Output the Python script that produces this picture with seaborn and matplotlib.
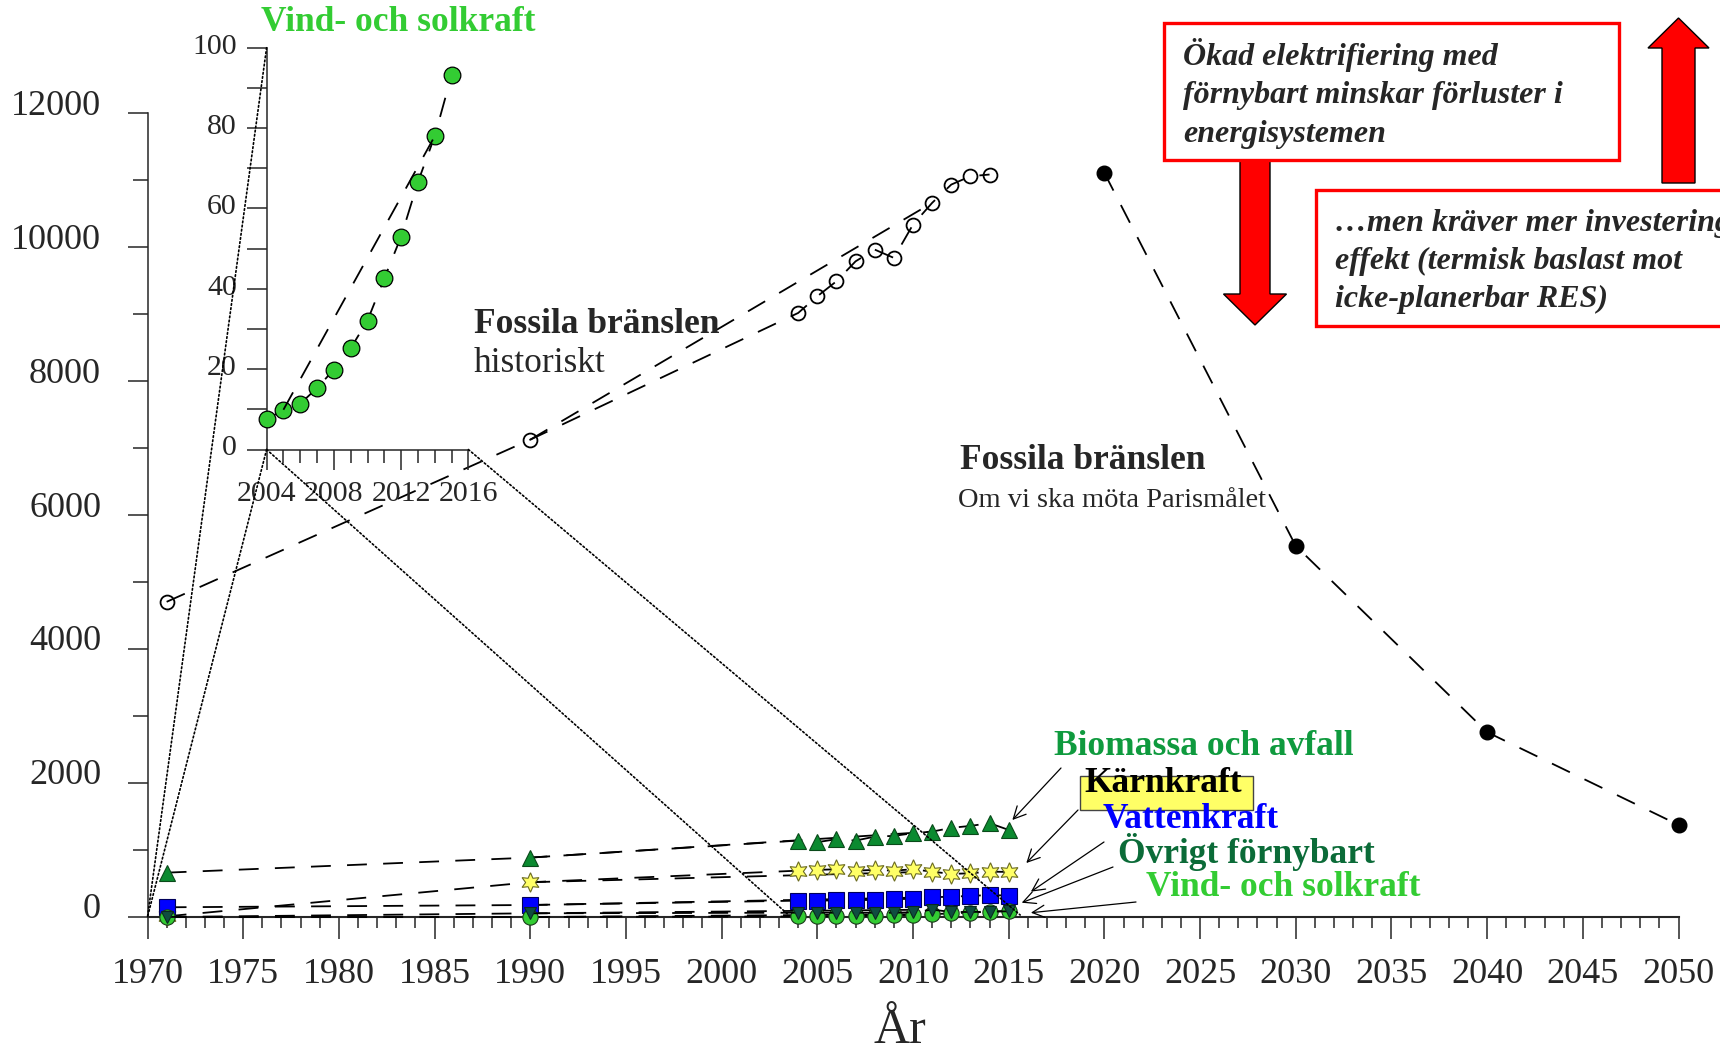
import matplotlib
matplotlib.use("Agg")
import matplotlib.pyplot as plt
import matplotlib.patches as mpatches
from matplotlib.patches import ConnectionPatch
from matplotlib.ticker import MultipleLocator
from matplotlib.transforms import ScaledTranslation
import pandas as pd
import seaborn as sns

# --- data ---
years_hist = [1971, 1990, 2004, 2005, 2006, 2007, 2008, 2009, 2010, 2011, 2012, 2013, 2014, 2015]
fossil_years = [1971, 1990, 2004, 2005, 2006, 2007, 2008, 2009, 2010, 2011, 2012, 2013, 2014]
fossil = [4706, 7127, 9019, 9268, 9492, 9790, 9965, 9841, 10339, 10663, 10936, 11060, 11086]
paris_years = [2020, 2030, 2040, 2050]
paris = [11110, 5540, 2760, 1375]
biomass = [662, 887, 1141, 1117, 1162, 1141, 1200, 1211, 1251, 1275, 1331, 1360, 1401, 1300]
nuclear = [10, 519, 692, 703, 713, 692, 703, 692, 713, 677, 643, 653, 677, 673]
hydro = [145, 179, 244, 244, 249, 254, 254, 264, 274, 294, 304, 314, 329, 319]
other_ren = [0, 55, 64, 64, 64, 64, 64, 64, 70, 110, 75, 75, 80, 85]
wind_solar = [0, 0, 7.5, 9.9, 11.4, 15.3, 19.9, 25.2, 32.1, 42.6, 53.0, 66.6, 78.0, 93.2]
bridge = (1990, 2011)        # extra dashed segment in the main chart
inset_bridge = (2005, 2014)  # extra dashed segment in the zoom box

hist = pd.DataFrame({'year': years_hist, 'bio': biomass, 'nuc': nuclear,
                     'hyd': hydro, 'oth': other_ren, 'vs': wind_solar}).set_index('year')
fos = pd.Series(fossil, index=fossil_years)
vs_recent = hist.loc[2004:, 'vs']

W, H = 1720, 1052
def fxy(px, py):
    return px / W, 1 - py / H

sns.set_style("ticks")
plt.rcParams['font.family'] = ['Liberation Serif', 'DejaVu Serif']

fig = plt.figure(figsize=(17.2, 10.52), dpi=100)
ax = fig.add_axes([0.08576, 0.12833, 0.89012, 0.76397])

DASH = (0, (11, 9))

def series(a, x, y, marker=None, ms=10, fc='w', ec='k', mew=1.0, z=3):
    sns.lineplot(x=list(x), y=list(y), ax=a, color='black', lw=1.3, ls=DASH,
                 marker=marker, markersize=ms, markerfacecolor=fc,
                 markeredgecolor=ec, markeredgewidth=mew, clip_on=False,
                 zorder=z, sort=False, estimator=None)

# fossil history + Paris path
series(ax, fos.index, fos.values, 'o', 10, 'none', 'black', 1.3)
series(ax, bridge, fos.loc[list(bridge)].values)
series(ax, paris_years, paris, 'o', 10.5, 'black', 'black', 1)

# renewables and nuclear
styles = [('bio', '^', 12, '#0b8a30', '#0a4a1a', 0.8),
          ('nuc', (6, 1, 0), 14, '#ffff66', '#6b6b20', 0.8),
          ('hyd', 's', 12, '#0000ff', '#00005a', 0.8),
          ('vs', 'o', 11, '#33cc33', '#1a3a1a', 0.8),
          ('oth', 'v', 8, '#0f4d40', '#0a2a20', 0.8)]
for col, mk, ms, fc, ec, mew in styles:
    series(ax, hist.index, hist[col].values, mk, ms, fc, ec, mew, z=4)
    series(ax, bridge, hist.loc[list(bridge), col].values)

ax.set_xlim(1970, 2050)
ax.set_ylim(0, 12000)
ax.set_xticks(range(1970, 2051, 5))
ax.xaxis.set_minor_locator(MultipleLocator(1))
ax.set_yticks(range(0, 12001, 2000))
ax.yaxis.set_minor_locator(MultipleLocator(1000))
ax.tick_params(axis='x', which='major', length=15.6, width=1.1, pad=14, labelsize=26)
ax.tick_params(axis='x', which='minor', length=8, width=1.1)
ax.tick_params(axis='y', which='major', length=14.4, width=1.1, pad=19, labelsize=26)
ax.tick_params(axis='y', which='minor', length=10.8, width=1.1)
for lab in ax.get_yticklabels():
    lab.set_transform(lab.get_transform() + ScaledTranslation(0, 8 / 72, fig.dpi_scale_trans))
sns.despine(ax=ax)
ax.spines['left'].set_linewidth(1.1)
ax.spines['bottom'].set_linewidth(1.5)
ax.set_xlabel('År', fontsize=36)
ax.xaxis.set_label_coords(0.4915, -0.113)

# zoom box for wind and solar
axi = fig.add_axes([0.15500, 0.5727, 0.11733, 0.38194])
axi.patch.set_alpha(0)
series(axi, vs_recent.index, vs_recent.values, 'o', 12, '#33cc33', 'black', 0.9)
series(axi, inset_bridge, vs_recent.loc[list(inset_bridge)].values)
axi.set_xlim(2004, 2016)
axi.set_ylim(0, 100)
axi.set_xticks([2004, 2008, 2012, 2016])
axi.xaxis.set_minor_locator(MultipleLocator(1))
axi.set_yticks(range(0, 101, 20))
axi.yaxis.set_minor_locator(MultipleLocator(10))
axi.tick_params(axis='x', which='major', length=14.4, width=1.1, pad=8, labelsize=21.5)
axi.tick_params(axis='x', which='minor', length=9.4, width=1.1)
axi.tick_params(axis='y', which='major', length=14.4, width=1.1, pad=7, labelsize=21.5)
axi.tick_params(axis='y', which='minor', length=14.4, width=1.1)
for lab in axi.get_yticklabels():
    lab.set_transform(lab.get_transform() + ScaledTranslation(0, 3 / 72, fig.dpi_scale_trans))
sns.despine(ax=axi)
for s in ['left', 'bottom']:
    axi.spines[s].set_linewidth(1.1)

# dotted guide lines between zoom box and main chart
links = [((2004, 100), (1970, 0)), ((2004, 0), (1970, 0)),
         ((2004, 0), (2003.5, 30)), ((2016, 0), (2015.6, 30))]
for a_pt, b_pt in links:
    con = ConnectionPatch(xyA=a_pt, coordsA=axi.transData, xyB=b_pt, coordsB=ax.transData,
                          color='black', lw=1.2, ls=(0, (1, 1.5)), zorder=1)
    fig.add_artist(con)

# texts
LBL = 25.5
fig.text(*fxy(261, 31), 'Vind- och solkraft', color='#33cc33', fontsize=LBL,
         fontweight='bold', va='baseline')
fig.text(*fxy(474, 333), 'Fossila bränslen', fontsize=LBL, fontweight='bold', va='baseline')
fig.text(*fxy(474, 372), 'historiskt', fontsize=LBL, va='baseline')
fig.text(*fxy(960, 469), 'Fossila bränslen', fontsize=LBL, fontweight='bold', va='baseline')
fig.text(*fxy(958, 507), 'Om vi ska möta Parismålet', fontsize=20.5, va='baseline')

# series labels with arrows
fig.add_artist(mpatches.Rectangle(fxy(1080, 810), 173 / W, 34 / H, transform=fig.transFigure,
                                  facecolor='#ffff66', edgecolor='#444444', lw=1, zorder=5))
labels = [('Biomassa och avfall', '#0f9a3e', (1054, 755), (2015.19, 1448), (1061, 768)),
          ('Kärnkraft', 'black', (1084, 792), (2015.92, 806), (1078, 810)),
          ('Vattenkraft', '#0000ff', (1103, 828), (2016.16, 378), (1104, 842)),
          ('Övrigt förnybart', '#0b6b38', (1118, 863), (2015.68, 213), (1113, 867)),
          ('Vind- och solkraft', '#33cc33', (1146, 896), (2016.16, 64), (1136, 902))]
for txt, col, pos, tip, start in labels:
    fig.text(*fxy(*pos), txt, color=col, fontsize=LBL, fontweight='bold', va='baseline', zorder=6)
    ax.annotate('', xy=tip, xycoords='data', xytext=fxy(*start), textcoords='figure fraction',
                arrowprops=dict(arrowstyle='->', color='black', lw=0.9, shrinkA=0, shrinkB=0,
                                mutation_scale=22), annotation_clip=False)

# red boxes and arrows
fig.add_artist(mpatches.Rectangle(fxy(1164, 160), 455 / W, 137 / H, transform=fig.transFigure,
                                  facecolor='white', edgecolor='#ff0000', lw=2.4, zorder=5))
fig.add_artist(mpatches.Rectangle(fxy(1316, 326), 430 / W, 136 / H, transform=fig.transFigure,
                                  facecolor='white', edgecolor='#ff0000', lw=2.4, zorder=5))
box1 = ['Ökad elektrifiering med', 'förnybart minskar förluster i', 'energisystemen']
for i, line in enumerate(box1):
    fig.text(*fxy(1183, 65 + 38.5 * i), line, fontsize=23, fontweight='bold', style='italic',
             va='baseline', zorder=6)
box2 = ['…men kräver mer investering i', 'effekt (termisk baslast mot', 'icke-planerbar RES)']
for i, line in enumerate(box2):
    fig.text(*fxy(1335, 231 + 38 * i), line, fontsize=23, fontweight='bold', style='italic',
             va='baseline', zorder=6)

x0, y0 = fxy(1255, 160)
fig.add_artist(mpatches.FancyArrow(x0, y0, 0, -165 / H, width=30 / W, head_width=63 / W,
                                   head_length=31 / H, length_includes_head=True,
                                   transform=fig.transFigure, fc='#ff0000', ec='black', lw=1, zorder=4))
x1, y1 = fxy(1678.5, 183)
fig.add_artist(mpatches.FancyArrow(x1, y1, 0, 165 / H, width=33 / W, head_width=61 / W,
                                   head_length=30 / H, length_includes_head=True,
                                   transform=fig.transFigure, fc='#ff0000', ec='black', lw=1, zorder=4))

fig.savefig('out.png', dpi=100)
